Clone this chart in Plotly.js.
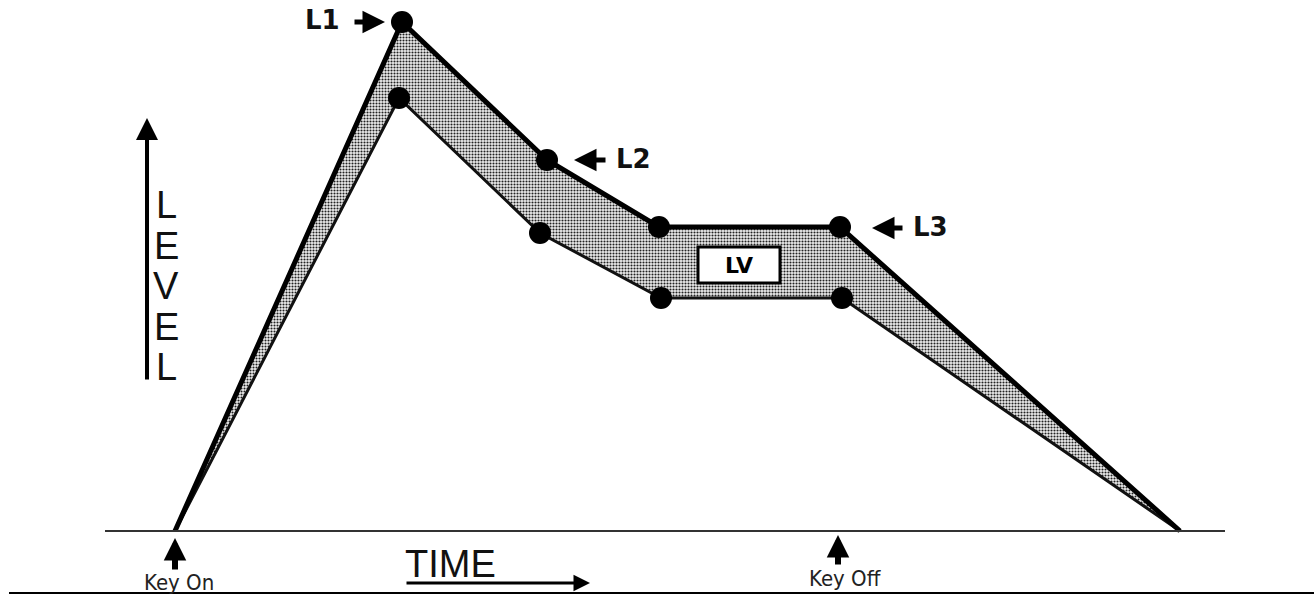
<!DOCTYPE html>
<html>
<head>
<meta charset="utf-8">
<script src="https://cdn.plot.ly/plotly-3.0.1.min.js"></script>
<style>html,body{margin:0;padding:0;background:#fff;}#chart{width:1314px;height:594px;}</style>
</head>
<body>
<div id="chart"></div>
<script>
// Envelope data (time units from Key On, level units above baseline)
const timeUpper  = [0, 227, 372, 484, 665, 1005];
const levelUpper = [0, 509, 371, 304, 304, 0];
const timeLower  = [0, 224, 365, 486, 667, 1005];
const levelLower = [0, 433, 298, 233, 233, 0];
const levelLabels = ["L1", "L2", "L3"];
const boxLabel = "LV";
const yTitle = "LEVEL";
const xTitle = "TIME";
const keyOnTime = 0;
const keyOffTime = 663;
const keyLabels = ["Key On", "Key Off"];

const polyX = timeUpper.concat(timeLower.slice().reverse());
const polyY = levelUpper.concat(levelLower.slice().reverse());

const traces = [
  {x: polyX, y: polyY, mode: 'lines', fill: 'toself', line: {width: 0, color: 'rgba(0,0,0,0)'},
   fillcolor: '#b0b0b0',
   fillpattern: {shape: '.', size: 3, solidity: 0.4, fgcolor: '#222', bgcolor: '#eeeeee'},
   hoverinfo: 'skip', showlegend: false},
  {x: timeLower, y: levelLower, mode: 'lines', line: {color: '#111', width: 3}, showlegend: false},
  {x: timeUpper, y: levelUpper, mode: 'lines', line: {color: '#000', width: 5}, showlegend: false},
  {x: timeUpper.slice(1, -1), y: levelUpper.slice(1, -1), mode: 'markers', marker: {color: '#000', size: 22}, showlegend: false},
  {x: timeLower.slice(1, -1), y: levelLower.slice(1, -1), mode: 'markers', marker: {color: '#000', size: 22}, showlegend: false}
];

const bold = {family: 'DejaVu Sans, Liberation Sans', size: 26, color: '#111'};
const thin = {family: 'Liberation Sans Narrow, Liberation Sans, DejaVu Sans', size: 38, color: '#111'};
const key = {family: 'DejaVu Sans Condensed, DejaVu Sans', size: 22, color: '#222'};

function arrow(x, y, ax, ay, w, size) {
  return {x: x, y: y, ax: ax, ay: ay, xref: 'x', yref: 'y', axref: 'x', ayref: 'y',
          text: '', showarrow: true, arrowhead: 2, arrowsize: size || 0.9, arrowwidth: w || 5, arrowcolor: '#000', standoff: 0};
}

const annotations = [
  // L1
  {x: timeUpper[1] - 80, y: levelUpper[1] + 2, xref: 'x', yref: 'y', text: '<b>' + levelLabels[0] + '</b>', showarrow: false, font: bold},
  arrow(timeUpper[1] - 17, levelUpper[1], timeUpper[1] - 49, levelUpper[1]),
  // L2
  arrow(timeUpper[2] + 27, levelUpper[2], timeUpper[2] + 60, levelUpper[2]),
  {x: timeUpper[2] + 86, y: levelUpper[2] + 1, xref: 'x', yref: 'y', text: '<b>' + levelLabels[1] + '</b>', showarrow: false, font: bold},
  // L3
  arrow(timeUpper[4] + 32, levelUpper[4] - 1, timeUpper[4] + 64, levelUpper[4] - 1),
  {x: timeUpper[4] + 90, y: levelUpper[4], xref: 'x', yref: 'y', text: '<b>' + levelLabels[2] + '</b>', showarrow: false, font: bold},
  // box label
  {x: 564, y: 266, xref: 'x', yref: 'y', text: '<b>' + boxLabel + '</b>', showarrow: false, font: {family: 'DejaVu Sans', size: 22, color: '#000'}},
  // level arrow
  arrow(-28, 413, -28, 150, 4, 1.1),
  // time
  {x: 275, y: -33, xref: 'x', yref: 'y', text: xTitle, showarrow: false, font: thin},
  arrow(415, -52, 230, -52, 3, 1.1),
  // key on / off
  arrow(keyOnTime, -7, keyOnTime, -40, 6, 0.75),
  {x: keyOnTime + 4, y: -51, xref: 'x', yref: 'y', text: keyLabels[0], showarrow: false, font: key},
  arrow(keyOffTime, -4, keyOffTime, -35, 6, 0.75),
  {x: keyOffTime + 7, y: -47, xref: 'x', yref: 'y', text: keyLabels[1], showarrow: false, font: key}
];
yTitle.split('').forEach((ch, i) => {
  annotations.push({x: -9, y: 326 - i * 40.5, xref: 'x', yref: 'y', text: ch, showarrow: false, font: thin});
});

const shapes = [
  {type: 'line', xref: 'x', yref: 'y', x0: -70, x1: 1050, y0: 0, y1: 0, line: {color: '#333', width: 2}},
  {type: 'line', xref: 'x', yref: 'y', x0: -166, x1: 1139, y0: -62, y1: -62, line: {color: '#000', width: 2}},
  {type: 'rect', xref: 'x', yref: 'y', x0: 523, x1: 605, y0: 248, y1: 284, fillcolor: '#fff', line: {color: '#000', width: 3}}
];

const layout = {
  width: 1314, height: 594,
  margin: {l: 0, r: 0, t: 0, b: 0},
  paper_bgcolor: '#fff', plot_bgcolor: '#fff',
  xaxis: {range: [-175, 1139], visible: false, fixedrange: true},
  yaxis: {range: [-63, 531], visible: false, fixedrange: true},
  showlegend: false,
  annotations: annotations,
  shapes: shapes
};

Plotly.newPlot('chart', traces, layout, {staticPlot: true});
</script>
</body>
</html>
